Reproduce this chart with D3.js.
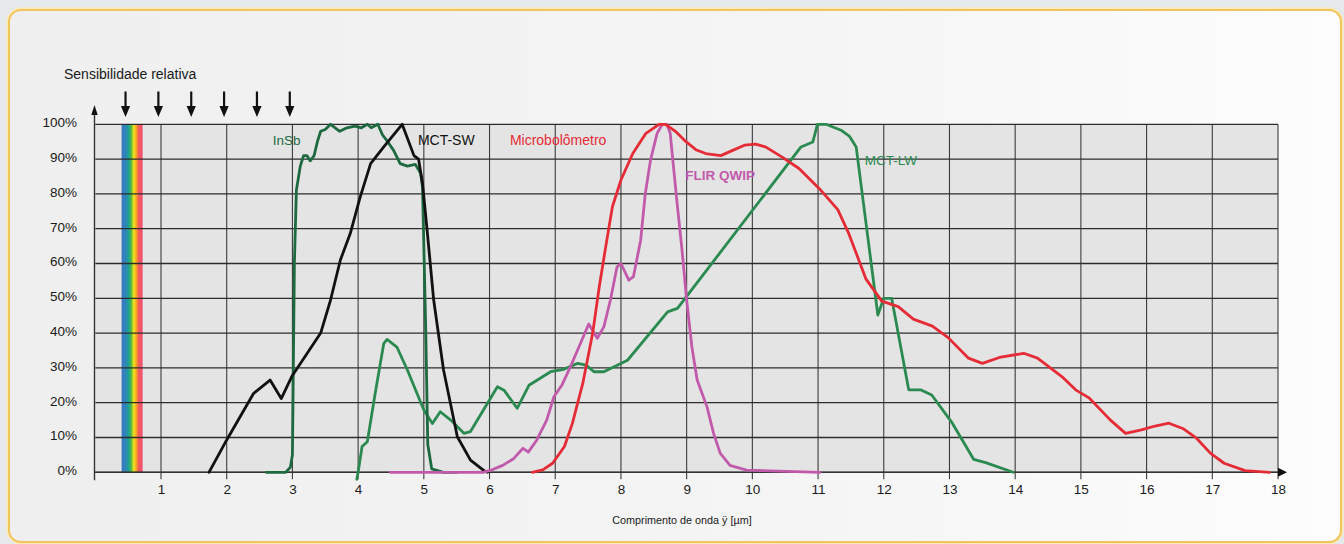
<!DOCTYPE html>
<html><head><meta charset="utf-8">
<script src="https://cdn.jsdelivr.net/npm/d3@7/dist/d3.min.js"></script>
<style>
html,body{margin:0;padding:0;background:#e5e9ec;}
svg{display:block;font-family:"Liberation Sans",Arial,Helvetica,sans-serif;}
</style>
</head><body>
<svg id="chart" width="1344" height="544"></svg>
<script>
// ---- data ----
const xTicks = [1,2,3,4,5,6,7,8,9,10,11,12,13,14,15,16,17,18];
const yTicks = [0,10,20,30,40,50,60,70,80,90,100];
const yTickLabels = ["0%","10%","20%","30%","40%","50%","60%","70%","80%","90%","100%"];
const arrowsAt = [0.46,0.96,1.46,1.96,2.46,2.96];
const visibleBand = [0.4,0.72];
const yTitle = "Sensibilidade relativa";
const xTitle = "Comprimento de onda ÿ [µm]";

const insb = [[2.6,0],[2.9,0],[2.97,1.5],[3.0,5],[3.03,60],[3.06,81],[3.12,88],[3.17,91],[3.22,91],[3.27,89.5],[3.33,91],[3.38,95],[3.43,98],[3.5,98.5],[3.58,100],[3.65,99],[3.72,98],[3.83,99],[3.95,99.5],[4.05,99],[4.14,100],[4.2,99],[4.3,100],[4.37,97],[4.45,95],[4.54,92.5],[4.64,88.7],[4.75,88],[4.87,88.5],[4.95,86],[4.98,82],[5.03,40],[5.06,8],[5.12,1],[5.3,0],[5.5,0]];
const mctSW = [[1.73,0],[2.0,9.3],[2.41,22.7],[2.66,26.5],[2.83,21.2],[2.99,27.5],[3.43,40],[3.58,49.5],[3.73,61],[3.88,68.6],[4.03,79],[4.19,88.7],[4.39,93.5],[4.67,100],[4.85,91],[4.92,90],[4.98,83],[5.05,69.6],[5.15,49.5],[5.3,29.4],[5.51,10.2],[5.71,3.5],[5.92,0.4],[5.97,0]];
const mctLW = [[3.98,-2],[4.0,0],[4.06,7.4],[4.14,8.8],[4.26,22.7],[4.39,37],[4.44,38.2],[4.59,36],[4.75,29.4],[5.0,17.9],[5.13,14],[5.25,17.4],[5.41,15],[5.61,11.2],[5.71,11.7],[6.12,24.6],[6.22,23.6],[6.42,18.4],[6.6,25],[6.93,28.9],[7.13,29.6],[7.34,31.3],[7.47,30.8],[7.59,28.9],[7.74,28.9],[8.1,32.2],[8.71,46.1],[8.86,47.1],[10.74,93.5],[10.92,94.9],[10.99,100],[11.12,100],[11.35,98.3],[11.48,96.5],[11.58,93.5],[11.91,45.2],[12.0,50],[12.12,50],[12.38,23.7],[12.56,23.7],[12.73,22.2],[13.03,14.5],[13.37,3.7],[13.55,2.8],[13.97,0]];
const micro = [[6.65,0],[6.81,0.7],[6.96,2.6],[7.14,7.4],[7.26,14],[7.42,25.6],[7.57,40],[7.67,53.3],[7.77,65],[7.87,76.3],[8.0,84],[8.18,91.6],[8.38,97.4],[8.58,100],[8.68,100],[8.84,97.8],[8.99,95],[9.14,92.7],[9.29,91.6],[9.52,91],[9.7,92.5],[9.88,94],[10.05,94.3],[10.2,93.5],[10.46,90.5],[10.71,87.3],[11.02,81.5],[11.3,75.5],[11.47,68.5],[11.73,55.5],[11.97,49.2],[12.22,47.6],[12.45,44],[12.74,42],[12.98,38.7],[13.29,32.8],[13.5,31.3],[13.76,33],[14.13,34.2],[14.34,32.8],[14.71,27.5],[14.92,23.7],[15.13,21.3],[15.45,15],[15.68,11.2],[15.92,12.2],[16.13,13.3],[16.34,14.1],[16.55,12.6],[16.76,9.8],[16.97,5.5],[17.18,2.6],[17.5,0.5],[17.87,0]];
const qwip = [[4.49,0],[5.9,0],[6.02,0.6],[6.2,2],[6.36,3.8],[6.51,6.9],[6.59,5.8],[6.72,9.3],[6.87,15],[6.98,21.7],[7.1,25],[7.23,30.3],[7.36,36],[7.51,42.6],[7.64,38.5],[7.74,41.8],[7.84,49.5],[7.94,59],[8.0,60],[8.12,55.2],[8.19,56.2],[8.3,66.7],[8.37,80],[8.45,89.7],[8.55,97.4],[8.63,100],[8.7,100],[8.75,97.4],[8.8,87.7],[8.85,78.2],[8.93,63.8],[9.0,49.5],[9.08,36],[9.16,26.5],[9.31,18.8],[9.41,11.2],[9.51,5.5],[9.66,2],[9.91,0.6],[11.03,0]];

const seriesNames = ["MCT-LW","InSb","MCT-SW","FLIR QWIP","Microbolômetro"];
const seriesColors = ["#2a8a50","#1d6a40","#111111","#c25aac","#e52b36"];
const seriesData = [mctLW, insb, mctSW, qwip, micro];
const labelPos = [[11.71,88.3],[2.7,94.05],[4.91,94.05],[8.98,84.0],[6.31,94.05]];
const labelBold = [false,false,false,true,false];
const labelSize = [13.5,13.5,14,13.5,14];

// ---- drawing ----
const svg = d3.select("#chart");
const W = 1344, H = 544;
const x = d3.scaleLinear().domain([0,18]).range([95.3,1278]);
const y = d3.scaleLinear().domain([0,100]).range([472.3,124.3]);

const defs = svg.append("defs");
const cg = defs.append("linearGradient").attr("id","cardg").attr("x1","0").attr("x2","1").attr("y1","0").attr("y2","0");
cg.append("stop").attr("offset","0").attr("stop-color","#efefef");
cg.append("stop").attr("offset","0.6").attr("stop-color","#f5f5f5");
cg.append("stop").attr("offset","1").attr("stop-color","#fdfdfd");
const rg = defs.append("linearGradient").attr("id","rainbow").attr("x1","0").attr("x2","1").attr("y1","0").attr("y2","0");
[["0","#3a78c4"],["0.2","#2e86b8"],["0.32","#1aa09a"],["0.45","#48b44a"],["0.58","#f2e31c"],["0.7","#f7a623"],["0.8","#f2605a"],["1","#ef4c72"]]
  .forEach(s=>rg.append("stop").attr("offset",s[0]).attr("stop-color",s[1]));

svg.append("rect").attr("width",W).attr("height",H).attr("fill","#e5e9ec");
svg.append("rect").attr("x",9).attr("y",10).attr("width",1332).attr("height",532).attr("rx",12)
  .attr("fill","none").attr("stroke","#fbe9b8").attr("stroke-width",5);
svg.append("rect").attr("x",9).attr("y",10).attr("width",1332).attr("height",532).attr("rx",12)
  .attr("fill","url(#cardg)").attr("stroke","#f3c45c").attr("stroke-width",2);

// plot background
svg.append("rect").attr("x",x(0)).attr("y",y(100)).attr("width",x(18)-x(0)).attr("height",y(0)-y(100)).attr("fill","#e4e4e4");

// rainbow band
svg.append("rect").attr("x",x(visibleBand[0])).attr("y",y(100)).attr("width",x(visibleBand[1])-x(visibleBand[0]))
  .attr("height",y(0)-y(100)).attr("fill","url(#rainbow)");

// grid
const g = svg.append("g");
g.selectAll("line.v").data(xTicks).join("line").attr("class","v")
  .attr("x1",d=>x(d)).attr("x2",d=>x(d)).attr("y1",y(100)).attr("y2",y(0)+7)
  .attr("stroke","#3c3c3c").attr("stroke-width",1.1);
g.selectAll("line.h").data(yTicks).join("line").attr("class","h")
  .attr("x1",x(0)).attr("x2",x(18)).attr("y1",d=>y(d)).attr("y2",d=>y(d))
  .attr("stroke","#2c2c2c").attr("stroke-width",1.3);

// axes with arrows
svg.append("line").attr("x1",x(0)-0.8).attr("x2",x(0)-0.8).attr("y1",y(0)+8).attr("y2",114).attr("stroke","#333").attr("stroke-width",1.4);
svg.append("path").attr("d",`M${x(0)-0.8},105 L${x(0)-4},115 L${x(0)+2.4},115 Z`).attr("fill","#111");
svg.append("line").attr("x1",x(0)-1).attr("x2",x(18)).attr("y1",y(0)).attr("y2",y(0)).attr("stroke","#333").attr("stroke-width",1.4);
svg.append("path").attr("d",`M${x(18)+9},${y(0)} L${x(18)},${y(0)-4.5} L${x(18)},${y(0)+4.5} Z`).attr("fill","#111");

// down arrows
const ag = svg.append("g");
arrowsAt.forEach(v=>{
  const ax = x(v);
  ag.append("line").attr("x1",ax).attr("x2",ax).attr("y1",91.5).attr("y2",108).attr("stroke","#111").attr("stroke-width",2.2);
  ag.append("path").attr("d",`M${ax-4.6},106 L${ax+4.6},106 L${ax},117 Z`).attr("fill","#111");
});

// tick labels
svg.append("g").selectAll("text").data(yTicks).join("text")
  .attr("x",77).attr("y",d=>y(d)-1.8).attr("dy","0.35em").attr("text-anchor","end")
  .attr("font-size",13.5).attr("fill","#1a1a1a").text((d,i)=>yTickLabels[i]);
svg.append("g").selectAll("text").data(xTicks).join("text")
  .attr("x",d=>x(d)+0.5).attr("y",493.5).attr("text-anchor","middle")
  .attr("font-size",13.5).attr("fill","#1a1a1a").text(d=>d);

svg.append("text").attr("x",64).attr("y",79).attr("font-size",14).attr("fill","#1a1a1a").text(yTitle);
svg.append("text").attr("x",682).attr("y",523.5).attr("text-anchor","middle").attr("font-size",10.8).attr("fill","#1a1a1a").text(xTitle);

// curves
const line = d3.line().x(d=>x(d[0])).y(d=>y(d[1])).curve(d3.curveLinear);
seriesData.forEach((s,i)=>{
  svg.append("path").datum(s).attr("d",line).attr("fill","none")
    .attr("stroke",seriesColors[i]).attr("stroke-width",2.8)
    .attr("stroke-linejoin","round").attr("stroke-linecap","round");
});

// labels
seriesNames.forEach((n,i)=>{
  svg.append("text").attr("x",x(labelPos[i][0])).attr("y",y(labelPos[i][1]))
    .attr("font-size",labelSize[i]).attr("font-weight",labelBold[i]?"bold":"normal")
    .attr("fill",seriesColors[i]).text(n);
});
</script>
</body></html>
